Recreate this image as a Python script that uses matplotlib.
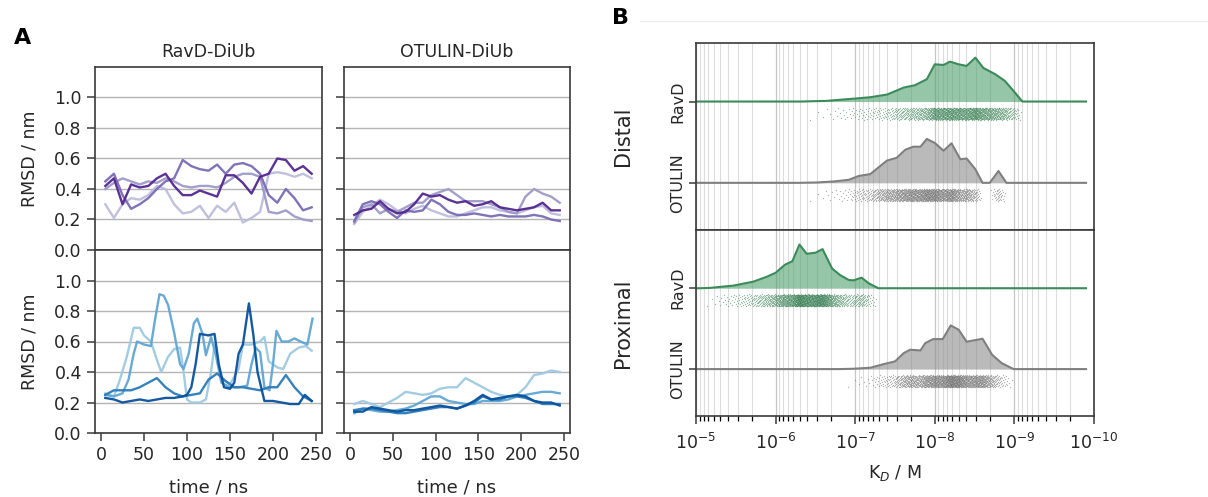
import numpy as np
import matplotlib
matplotlib.use("Agg")
import matplotlib.pyplot as plt
from matplotlib.lines import Line2D
from matplotlib.ticker import LogLocator, NullFormatter

W, H = 1208, 497

# ---- A: RMSD traces, time in ns, RMSD in nm ----
t_grid = [5, 15, 25, 35, 45, 55, 65, 75, 85, 95, 105, 115, 125,
          135, 145, 155, 165, 175, 185, 195, 205, 215, 225, 235, 245]

ravd_distal = [
    [0.42, 0.47, 0.30, 0.43, 0.41, 0.42, 0.47, 0.50, 0.42, 0.36, 0.36, 0.39, 0.37,
     0.35, 0.49, 0.49, 0.44, 0.37, 0.48, 0.50, 0.60, 0.59, 0.52, 0.55, 0.50],
    [0.45, 0.50, 0.36, 0.27, 0.30, 0.34, 0.40, 0.45, 0.47, 0.59, 0.55, 0.53, 0.52,
     0.56, 0.50, 0.56, 0.57, 0.55, 0.50, 0.36, 0.31, 0.40, 0.34, 0.26, 0.28],
    [0.40, 0.44, 0.47, 0.45, 0.43, 0.45, 0.44, 0.47, 0.45, 0.42, 0.41, 0.42, 0.42,
     0.41, 0.44, 0.48, 0.50, 0.50, 0.48, 0.25, 0.24, 0.26, 0.22, 0.20, 0.19],
    [0.30, 0.21, 0.30, 0.34, 0.33, 0.36, 0.42, 0.40, 0.30, 0.24, 0.25, 0.29, 0.21,
     0.29, 0.25, 0.31, 0.18, 0.21, 0.25, 0.50, 0.51, 0.50, 0.48, 0.50, 0.47],
]

otulin_distal = [
    [0.23, 0.26, 0.27, 0.32, 0.27, 0.24, 0.25, 0.30, 0.37, 0.35, 0.36, 0.33, 0.31,
     0.32, 0.29, 0.30, 0.32, 0.28, 0.27, 0.26, 0.27, 0.28, 0.31, 0.26, 0.26],
    [0.19, 0.30, 0.32, 0.30, 0.25, 0.21, 0.26, 0.25, 0.26, 0.33, 0.30, 0.25, 0.23,
     0.23, 0.24, 0.23, 0.22, 0.23, 0.22, 0.22, 0.22, 0.23, 0.22, 0.20, 0.19],
    [0.18, 0.28, 0.30, 0.24, 0.27, 0.25, 0.28, 0.31, 0.31, 0.36, 0.38, 0.40, 0.36,
     0.32, 0.32, 0.32, 0.30, 0.28, 0.25, 0.24, 0.35, 0.40, 0.37, 0.35, 0.31],
    [0.17, 0.25, 0.29, 0.33, 0.30, 0.26, 0.24, 0.27, 0.29, 0.26, 0.24, 0.22, 0.22,
     0.24, 0.26, 0.28, 0.28, 0.26, 0.25, 0.24, 0.26, 0.28, 0.29, 0.24, 0.23],
]

# proximal RavD runs are spikier, so each keeps its own time points
ravd_prox_t = [
    [5, 15, 25, 35, 45, 55, 65, 75, 85, 95, 100, 105, 110, 115, 125, 132, 137, 143,
     150, 155, 160, 165, 172, 177, 182, 190, 200, 210, 220, 230, 237, 245],
    t_grid,
    [5, 15, 25, 32, 38, 42, 50, 58, 63, 68, 73, 78, 85, 92, 96, 102, 108, 112, 118,
     122, 128, 134, 140, 150, 160, 170, 175, 180, 185, 190, 196, 200, 204, 210, 218,
     225, 232, 240, 246],
    [5, 15, 22, 30, 38, 45, 50, 58, 65, 70, 78, 85, 92, 96, 100, 105, 115, 122, 128,
     132, 136, 140, 150, 160, 165, 175, 185, 190, 195, 205, 212, 220, 230, 238, 245],
]
ravd_prox = [
    [0.23, 0.22, 0.20, 0.21, 0.22, 0.21, 0.22, 0.23, 0.23, 0.24, 0.25, 0.30, 0.45,
     0.65, 0.64, 0.65, 0.45, 0.30, 0.29, 0.33, 0.52, 0.58, 0.85, 0.65, 0.40, 0.21,
     0.21, 0.20, 0.19, 0.19, 0.25, 0.21],
    [0.25, 0.28, 0.28, 0.28, 0.30, 0.33, 0.36, 0.30, 0.26, 0.24, 0.25, 0.26, 0.35,
     0.39, 0.34, 0.30, 0.30, 0.29, 0.28, 0.30, 0.30, 0.38, 0.30, 0.24, 0.21],
    [0.25, 0.24, 0.26, 0.35, 0.52, 0.60, 0.58, 0.57, 0.75, 0.91, 0.90, 0.84, 0.66,
     0.45, 0.42, 0.52, 0.72, 0.75, 0.65, 0.51, 0.63, 0.50, 0.33, 0.30, 0.30, 0.31,
     0.45, 0.56, 0.53, 0.30, 0.28, 0.45, 0.67, 0.60, 0.60, 0.62, 0.60, 0.58, 0.75],
    [0.26, 0.24, 0.35, 0.50, 0.69, 0.69, 0.64, 0.60, 0.48, 0.40, 0.50, 0.55, 0.56,
     0.40, 0.22, 0.20, 0.20, 0.22, 0.40, 0.58, 0.45, 0.36, 0.32, 0.42, 0.58, 0.58,
     0.60, 0.63, 0.47, 0.43, 0.42, 0.52, 0.56, 0.57, 0.54],
]

otulin_prox = [
    [0.14, 0.14, 0.17, 0.16, 0.15, 0.14, 0.15, 0.15, 0.16, 0.17, 0.18, 0.17, 0.16,
     0.18, 0.21, 0.25, 0.22, 0.23, 0.24, 0.25, 0.24, 0.21, 0.20, 0.20, 0.18],
    [0.15, 0.16, 0.16, 0.15, 0.14, 0.13, 0.13, 0.14, 0.15, 0.16, 0.17, 0.17, 0.16,
     0.18, 0.20, 0.24, 0.22, 0.22, 0.24, 0.24, 0.23, 0.21, 0.19, 0.19, 0.19],
    [0.13, 0.16, 0.15, 0.14, 0.14, 0.15, 0.16, 0.18, 0.21, 0.24, 0.24, 0.21, 0.20,
     0.19, 0.19, 0.21, 0.21, 0.21, 0.22, 0.24, 0.25, 0.26, 0.27, 0.27, 0.26],
    [0.19, 0.21, 0.19, 0.17, 0.20, 0.23, 0.27, 0.26, 0.25, 0.26, 0.29, 0.30, 0.30,
     0.36, 0.33, 0.30, 0.27, 0.25, 0.24, 0.25, 0.30, 0.38, 0.39, 0.41, 0.40],
]

purples = ['#54278f', '#7a6bb3', '#9e9ac8', '#bcbddc']
blues = ['#08519c', '#2b7bba', '#5fa6d3', '#9ecae1']

# ---- B: K_D distributions, given as pK_D = -log10(K_D) and relative density ----
distal_ravd_pkd = [5.0, 6.31, 6.64, 7.0, 7.19, 7.40, 7.61, 7.75, 7.90, 8.0, 8.11,
                   8.19, 8.30, 8.40, 8.51, 8.61, 8.76, 8.88, 8.99, 9.10, 9.9]
distal_ravd_dens = [0, 0, 0.015, 0.068, 0.098, 0.159, 0.318, 0.371, 0.508, 0.848,
                    0.833, 0.909, 0.848, 0.811, 1.0, 0.765, 0.621, 0.47, 0.24, 0, 0]
distal_otulin_pkd = [5.0, 6.3, 6.52, 6.73, 6.92, 7.04, 7.19, 7.40, 7.52, 7.63, 7.73,
                     7.82, 7.90, 8.0, 8.11, 8.21, 8.32, 8.40, 8.51, 8.60, 8.69, 8.80,
                     8.90, 9.9]
distal_otulin_dens = [0, 0, 0.008, 0.031, 0.069, 0.154, 0.2, 0.508, 0.569, 0.754,
                      0.823, 0.823, 1.0, 0.908, 0.731, 0.9, 0.538, 0.554, 0.308, 0, 0,
                      0.269, 0, 0]
prox_ravd_pkd = [5.0, 5.05, 5.18, 5.47, 5.72, 5.89, 6.0, 6.12, 6.21, 6.30, 6.39, 6.50,
                 6.59, 6.71, 6.81, 6.92, 6.98, 7.08, 7.17, 7.29, 9.9]
prox_ravd_dens = [0, 0, 0.008, 0.06, 0.15, 0.263, 0.353, 0.541, 0.617, 1.0, 0.789,
                  0.812, 0.895, 0.451, 0.301, 0.188, 0.180, 0.241, 0.113, 0, 0]
prox_otulin_pkd = [5.0, 6.8, 6.98, 7.19, 7.36, 7.50, 7.61, 7.69, 7.82, 7.88, 7.98,
                   8.10, 8.20, 8.30, 8.40, 8.60, 8.72, 8.84, 8.99, 9.9]
prox_otulin_dens = [0, 0, 0.008, 0.031, 0.115, 0.176, 0.366, 0.443, 0.427, 0.595,
                    0.687, 0.687, 1.0, 0.901, 0.626, 0.695, 0.328, 0.137, 0, 0]

green_line, green_fill, green_dot = '#3a8a5a', '#4fa06c', '#2f7a4c'
grey_line, grey_fill, grey_dot = '#7f7f7f', '#8c8c8c', '#6a6a6a'

plt.rcParams['font.family'] = 'DejaVu Sans'
text_col = '#262626'
spine_col = '#3a3a3a'

fig = plt.figure(figsize=(W / 100, H / 100), dpi=100)


def add_axes_px(left, top, right, bottom):
    return fig.add_axes([left / W, 1 - bottom / H, (right - left) / W, (bottom - top) / H])


def style_box(ax):
    for s in ax.spines.values():
        s.set_color(spine_col)
        s.set_linewidth(1.2)
    ax.tick_params(colors=spine_col, labelcolor=text_col, direction='out')


# ---- panel A ----
ax_tl = add_axes_px(95, 67, 322, 250)
ax_tr = add_axes_px(344, 67, 570, 250)
ax_bl = add_axes_px(95, 250, 322, 433)
ax_br = add_axes_px(344, 250, 570, 433)

panels = [
    (ax_tl, [t_grid] * 4, ravd_distal, purples),
    (ax_tr, [t_grid] * 4, otulin_distal, purples),
    (ax_bl, ravd_prox_t, ravd_prox, blues),
    (ax_br, [t_grid] * 4, otulin_prox, blues),
]
for ax, times, series, cols in panels:
    # lightest run first so the darker ones sit on top
    for k in range(3, -1, -1):
        ax.plot(times[k], series[k], color=cols[k], lw=1.7, alpha=0.95)
    ax.set_xlim(-7, 257)
    ax.set_ylim(0, 1.2)
    ax.set_yticks([0.0, 0.2, 0.4, 0.6, 0.8, 1.0])
    ax.set_xticks([0, 50, 100, 150, 200, 250])
    ax.grid(True, axis='y', color='#b4b4b4', lw=1.0)
    ax.set_axisbelow(True)
    style_box(ax)
    ax.tick_params(labelsize=12.5, length=6, width=1.1)

for ax in (ax_tl, ax_tr):
    ax.tick_params(axis='x', bottom=False, labelbottom=False)
for ax in (ax_tr, ax_br):
    ax.tick_params(axis='y', labelleft=False)
for ax in (ax_tl, ax_bl):
    ax.set_ylabel('RMSD / nm', fontsize=12.5, color=text_col)
    ax.yaxis.set_label_coords(-0.25, 0.5)
for ax in (ax_bl, ax_br):
    ax.set_xlabel('time / ns', fontsize=13, color=text_col)
    ax.xaxis.set_label_coords(0.5, -0.25)

ax_tl.set_title('RavD-DiUb', fontsize=12.5, color=text_col, pad=7)
ax_tr.set_title('OTULIN-DiUb', fontsize=12.5, color=text_col, pad=7)

# ---- panel B ----
ax_dist = add_axes_px(696, 43, 1094, 230)
ax_prox = add_axes_px(696, 230, 1094, 416)

groups = [
    (ax_dist, 'Distal', [
        (distal_ravd_pkd, distal_ravd_dens, 1.0, green_line, green_fill, green_dot),
        (distal_otulin_pkd, distal_otulin_dens, 0.0, grey_line, grey_fill, grey_dot)]),
    (ax_prox, 'Proximal', [
        (prox_ravd_pkd, prox_ravd_dens, 1.0, green_line, green_fill, green_dot),
        (prox_otulin_pkd, prox_otulin_dens, 0.0, grey_line, grey_fill, grey_dot)]),
]

n_pts = 1400
q = (np.arange(n_pts) + 0.5) / n_pts
jitter = ((np.arange(n_pts) * 0.6180339887) % 1.0 - 0.5) * 0.15

for ax, name, rows in groups:
    ax.set_xscale('log')
    for pkd, dens, base, lc, fc, dc in rows:
        pkd = np.asarray(pkd, float)
        dens = np.asarray(dens, float)
        kd = 10.0 ** (-pkd)
        top = base + 0.54 * dens
        ax.fill_between(kd, base, top, color=fc, alpha=0.6, lw=0)
        ax.plot(kd, top, color=lc, lw=1.5)
        # strip of individual estimates drawn from the same distribution
        fine = np.linspace(pkd.min(), pkd.max(), 3000)
        cdf = np.cumsum(np.interp(fine, pkd, dens))
        cdf /= cdf[-1]
        samples = np.interp(q, cdf, fine)
        ax.scatter(10.0 ** (-samples), base - 0.15 + jitter, s=0.9, color=dc,
                   alpha=0.5, lw=0)
    ax.set_xlim(1e-5, 1e-10)
    ax.set_ylim(-0.58, 1.72)
    ax.set_yticks([1.0, 0.0])
    ax.set_yticklabels(['RavD', 'OTULIN'], rotation=90, va='center', fontsize=11.5)
    ax.xaxis.set_major_locator(LogLocator(base=10, numticks=12))
    ax.xaxis.set_minor_locator(LogLocator(base=10, subs=np.arange(2, 10), numticks=12))
    ax.xaxis.set_minor_formatter(NullFormatter())
    ax.grid(True, which='major', axis='x', color='#c6c6c6', lw=0.9)
    ax.grid(True, which='minor', axis='x', color='#dddddd', lw=0.8)
    ax.set_axisbelow(True)
    style_box(ax)
    ax.tick_params(axis='y', length=5, width=1.1, pad=3)
    ax.tick_params(axis='x', which='major', length=6, width=1.1, labelsize=12.5, pad=6)
    ax.tick_params(axis='x', which='minor', length=3.5, width=0.9)
    ax.set_ylabel(name, fontsize=15, color=text_col)
    ax.yaxis.set_label_coords(-0.158, 0.5)

ax_dist.tick_params(axis='x', which='both', bottom=False, labelbottom=False)
ax_prox.set_xlabel('K$_D$ / M', fontsize=12.5, color=text_col)
ax_prox.xaxis.set_label_coords(0.5, -0.255)

# panel letters and the faint rule above panel B
fig.text(23 / W, 1 - 38 / H, 'A', fontsize=16, fontweight='bold', ha='center', va='center')
fig.text(621 / W, 1 - 18 / H, 'B', fontsize=16, fontweight='bold', ha='center', va='center')
fig.add_artist(Line2D([640 / W, 1.0], [1 - 21 / H, 1 - 21 / H], color='#ececec', lw=1))

fig.savefig('out.png', dpi=100)
